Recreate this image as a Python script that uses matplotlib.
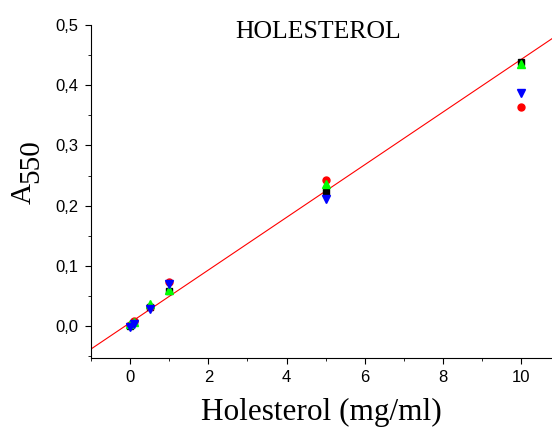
import matplotlib.pyplot as plt
from matplotlib.ticker import FuncFormatter, MultipleLocator

# Holesterol concentration (mg/ml)
conc = [0, 0.1, 0.5, 1, 5, 10]

# A550 readings, four replicate series
a_black = [0.000, 0.006, 0.031, 0.058, 0.223, 0.439]
a_red = [0.002, 0.008, 0.032, 0.073, 0.243, 0.364]
a_green = [0.003, 0.007, 0.037, 0.060, 0.236, 0.435]
a_blue = [-0.001, 0.004, 0.028, 0.070, 0.211, 0.387]

# linear fit
slope = 0.0437
intercept = 0.0057
fit_x = [-1.0, 10.8]

fig = plt.figure(figsize=(5.52, 4.30), dpi=100)
ax = fig.add_axes([0.165, 0.1674, 0.835, 0.7746])

ax.plot(fit_x, [slope * x + intercept for x in fit_x], color='red', lw=0.8, zorder=1)
ax.plot(conc, a_black, 's', color='black', ms=5, zorder=2)
ax.plot(conc, a_red, 'o', color='red', ms=5, zorder=2)
ax.plot(conc, a_green, '^', color='#00ff00', ms=6, zorder=3)
ax.plot(conc, a_blue, 'v', color='blue', ms=6, zorder=3)

ax.set_xlim(-1.0, 10.79)
ax.set_ylim(-0.053, 0.5)

ax.spines['top'].set_visible(False)
ax.spines['right'].set_visible(False)

ax.xaxis.set_major_locator(MultipleLocator(2))
ax.xaxis.set_minor_locator(MultipleLocator(1))
ax.yaxis.set_major_locator(MultipleLocator(0.1))
ax.yaxis.set_minor_locator(MultipleLocator(0.05))
ax.yaxis.set_major_formatter(FuncFormatter(lambda v, p: f"{v:.1f}".replace('.', ',')))

ax.tick_params(which='major', direction='out', length=4.3, pad=4.5, labelsize=12)
ax.tick_params(which='minor', direction='out', length=2.5)
for lab in ax.get_xticklabels() + ax.get_yticklabels():
    lab.set_family('Liberation Sans')

ax.set_xlabel('Holesterol (mg/ml)', family='Liberation Serif', fontsize=22.5, labelpad=9)

# y label "A" with lowered "550"
fig.text(0.0426, 0.551, 'A', rotation=90, ha='center', va='center',
         family='Liberation Serif', fontsize=21)
fig.text(0.056, 0.626, '550', rotation=90, ha='center', va='center',
         family='Liberation Serif', fontsize=21)

fig.text(318 / 552, 1 - 32 / 430, 'HOLESTEROL', ha='center', va='center',
         family='Liberation Serif', fontsize=18.5)

fig.savefig('out.png', dpi=100)
